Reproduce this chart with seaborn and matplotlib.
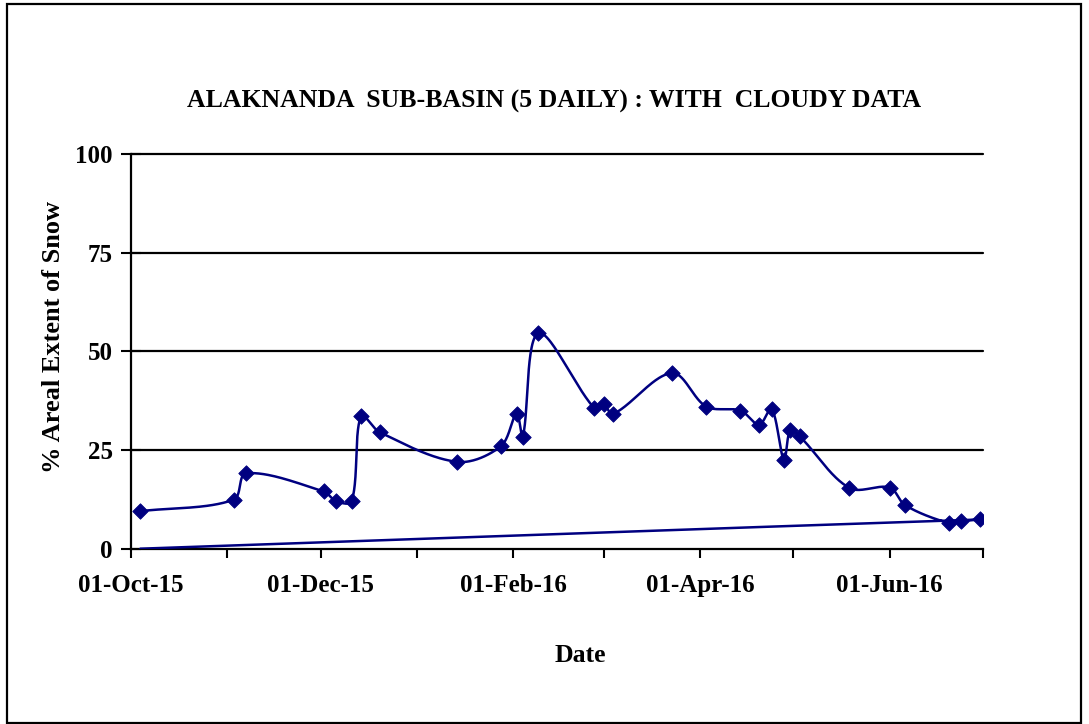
import matplotlib
matplotlib.use("Agg")
import numpy as np
import pandas as pd
import matplotlib.pyplot as plt
import matplotlib.dates as mdates
import seaborn as sns

# ---------------- data ----------------
dates = ["2015-10-04", "2015-11-03", "2015-11-07", "2015-12-02", "2015-12-06",
         "2015-12-11", "2015-12-14", "2015-12-20", "2016-01-14", "2016-01-28",
         "2016-02-02", "2016-02-04", "2016-02-09", "2016-02-27", "2016-03-01",
         "2016-03-04", "2016-03-23", "2016-04-03", "2016-04-14", "2016-04-20",
         "2016-04-24", "2016-04-28", "2016-04-30", "2016-05-03", "2016-05-19",
         "2016-06-01", "2016-06-06", "2016-06-20", "2016-06-24", "2016-06-30"]
snow_pct = [9.5, 12.4, 19.1, 14.5, 12.0,
            12.0, 33.7, 29.5, 22.0, 26.0,
            34.2, 28.4, 54.6, 35.6, 36.6,
            34.1, 44.5, 36.0, 35.0, 31.4,
            35.5, 22.5, 30.0, 28.5, 15.4,
            15.5, 11.0, 6.5, 7.0, 7.4]
# trailing (empty) row of the source sheet that the line runs back to
return_date = "2015-10-04"
return_value = 0.0

y_ticks = [0, 25, 50, 75, 100]
x_start, x_end = "2015-10-01", "2016-07-01"
title = "ALAKNANDA  SUB-BASIN (5 DAILY) : WITH  CLOUDY DATA"
x_label = "Date"
y_label = "% Areal Extent of Snow"

# ---------------- style ----------------
sns.set_theme(style="white")
plt.rcParams["font.family"] = ["Liberation Serif", "DejaVu Serif"]
plt.rcParams["font.weight"] = "bold"

W, H = 1089, 724
fig = plt.figure(figsize=(W / 100, H / 100), dpi=100)
fig.patch.set_facecolor("white")
ax = fig.add_axes([131 / W, 1 - 548.7 / H, 852 / W, (548.7 - 154) / H])
ax.set_facecolor("white")

navy = "#000080"

df = pd.DataFrame({"date": pd.to_datetime(dates), "value": snow_pct})
ax.set_xlim(pd.Timestamp(x_start), pd.Timestamp(x_end))
ax.set_ylim(0, 100)

# smooth Bezier curve (Excel-like) computed in display space
xs = list(mdates.date2num(df["date"])) + [mdates.date2num(pd.Timestamp(return_date))]
ys = list(df["value"]) + [return_value]
fig.canvas.draw()
pix = ax.transData.transform(np.column_stack([xs, ys]))


def smooth(pts, n=50):
    out = []
    N = len(pts)
    t = np.linspace(0, 1, n)[:, None]
    for i in range(N - 1):
        p0 = pts[i - 1] if i > 0 else pts[i]
        p1 = pts[i]
        p2 = pts[i + 1]
        p3 = pts[i + 2] if i + 2 < N else pts[i + 1]
        d01 = np.linalg.norm(p1 - p0)
        d12 = np.linalg.norm(p2 - p1)
        d23 = np.linalg.norm(p3 - p2)
        f1 = d12 / (d01 + d12) / 3.0 if d01 + d12 > 0 else 0
        f2 = d12 / (d12 + d23) / 3.0 if d12 + d23 > 0 else 0
        c1 = p1 + (p2 - p0) * f1
        c2 = p2 - (p3 - p1) * f2
        seg = ((1 - t) ** 3) * p1 + 3 * ((1 - t) ** 2) * t * c1 \
            + 3 * (1 - t) * t ** 2 * c2 + t ** 3 * p2
        out.append(seg if i == 0 else seg[1:])
    return np.vstack(out)


curve = ax.transData.inverted().transform(smooth(pix))
curve_df = pd.DataFrame({"x": mdates.num2date(curve[:, 0]), "y": curve[:, 1]})
sns.lineplot(data=curve_df, x="x", y="y", sort=False, estimator=None,
             color=navy, linewidth=1.8, ax=ax, zorder=3)
sns.scatterplot(data=df, x="date", y="value", marker="D", s=62, color=navy,
                edgecolor=navy, linewidth=0.6, ax=ax, zorder=4)

# grid & spines
for v in y_ticks[1:]:
    ax.axhline(v, color="black", linewidth=1.6, zorder=1, clip_on=False)
for s in ["top", "right"]:
    ax.spines[s].set_visible(False)
for s in ["left", "bottom"]:
    ax.spines[s].set_color("black")
    ax.spines[s].set_linewidth(1.6)
    ax.spines[s].set_zorder(2)

ax.set_yticks(y_ticks)
ax.set_yticklabels([str(v) for v in y_ticks])
ax.xaxis.set_major_locator(mdates.MonthLocator(bymonth=[10, 12, 2, 4, 6]))
ax.xaxis.set_minor_locator(mdates.MonthLocator())
ax.xaxis.set_major_formatter(mdates.DateFormatter("%d-%b-%y"))

ax.tick_params(axis="y", which="major", direction="inout", length=14, width=1.5,
               color="black", pad=6, labelsize=18, labelcolor="black")
ax.tick_params(axis="x", which="both", direction="out", length=6.5, width=1.5,
               color="black", pad=12, labelsize=18, labelcolor="black")
ax.tick_params(axis="x", which="both", bottom=True)
ax.tick_params(axis="y", left=True)
for lab in ax.get_xticklabels() + ax.get_yticklabels():
    lab.set_fontweight("bold")
ax.set_xlabel("")
ax.set_ylabel("")

fig.text(554 / W, 1 - 101 / H, title, ha="center", va="center",
         fontsize=18.5, fontweight="bold", color="black")
fig.text(580 / W, 1 - 655 / H, x_label, ha="center", va="center",
         fontsize=18.5, fontweight="bold", color="black")
fig.text(54 / W, 1 - 337 / H, y_label, ha="center", va="center", rotation=90,
         fontsize=19, fontweight="bold", color="black")

# outer chart-area border
border = plt.Rectangle((7 / W, 1 - 723 / H), (1081 - 7) / W, (723 - 4) / H,
                       transform=fig.transFigure, fill=False,
                       edgecolor="black", linewidth=1.6)
fig.patches.append(border)

fig.savefig("out.png", dpi=100, facecolor="white")
